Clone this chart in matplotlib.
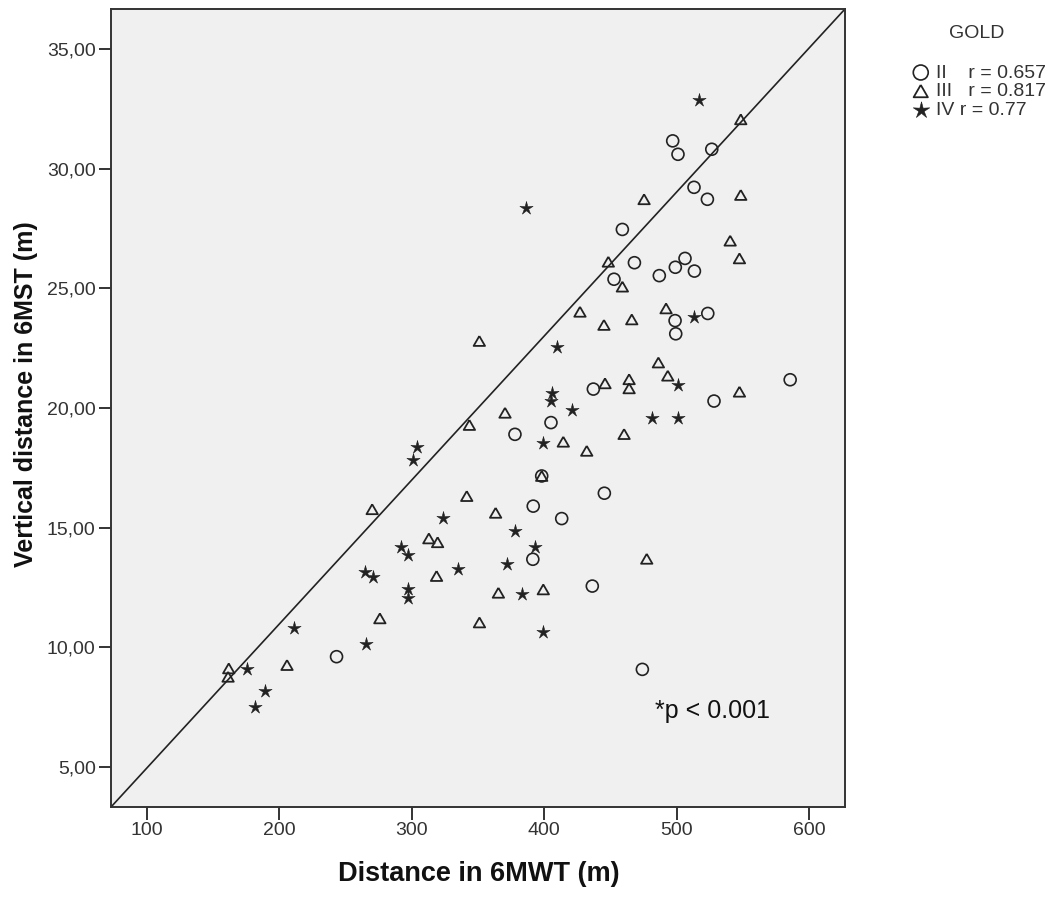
import numpy as np
import matplotlib
matplotlib.use("Agg")
import matplotlib.pyplot as plt

plt.rcParams['font.family'] = ['Liberation Sans', 'DejaVu Sans']

# ---- data ----
ii_walk = [496.9, 500.9, 526.4, 513.0, 523.1, 458.9, 468.0, 506.2, 498.9, 513.3,
           486.8, 452.6, 523.4, 498.7, 499.2, 437.0, 585.6, 528.1, 405.0, 377.8,
           398.0, 391.6, 413.1, 445.3, 391.3, 436.2, 243.1, 474.0]
ii_stair = [31.16, 30.60, 30.81, 29.22, 28.72, 27.46, 26.07, 26.25, 25.88, 25.72,
            25.53, 25.38, 23.95, 23.65, 23.10, 20.79, 21.18, 20.29, 19.39, 18.90,
            17.16, 15.90, 15.38, 16.44, 13.68, 12.56, 9.61, 9.08]

iii_walk = [548.3, 475.3, 548.3, 540.3, 547.3, 448.3, 458.9, 426.9, 445.0, 466.0,
            491.9, 350.9, 486.1, 493.2, 445.8, 464.0, 464.0, 547.3, 370.3, 343.4,
            414.3, 460.2, 432.0, 398.0, 341.4, 363.2, 270.0, 312.8, 319.4, 477.3,
            318.6, 365.3, 399.2, 275.8, 351.0, 205.7, 161.7, 161.2]
iii_stair = [32.06, 28.72, 28.90, 26.99, 26.25, 26.11, 25.07, 24.02, 23.47, 23.70,
             24.16, 22.80, 21.90, 21.35, 21.03, 21.20, 20.82, 20.68, 19.80, 19.29,
             18.59, 18.91, 18.21, 17.16, 16.32, 15.62, 15.77, 14.55, 14.39, 13.70,
             12.98, 12.28, 12.42, 11.21, 11.04, 9.26, 9.12, 8.77]

iv_walk = [517.0, 386.1, 513.0, 409.8, 405.5, 405.0, 501.2, 421.2, 481.5, 501.2,
           398.7, 303.5, 301.0, 323.6, 377.8, 291.7, 297.3, 392.9, 371.5, 335.0,
           264.5, 270.3, 297.3, 297.3, 382.9, 211.1, 265.0, 399.2, 175.8, 189.4,
           181.4]
iv_stair = [32.87, 28.34, 23.79, 22.56, 20.64, 20.30, 20.96, 19.91, 19.57, 19.57,
            18.52, 18.38, 17.82, 15.39, 14.87, 14.18, 13.86, 14.21, 13.47, 13.27,
            13.13, 12.92, 12.42, 12.05, 12.22, 10.82, 10.14, 10.65, 9.08, 8.19,
            7.52]

group_labels = ["II    r = 0.657", "III   r = 0.817", "IV r = 0.77"]
x_ticks = [100, 200, 300, 400, 500, 600]
y_ticks = [5, 10, 15, 20, 25, 30, 35]
y_tick_labels = ["5,00", "10,00", "15,00", "20,00", "25,00", "30,00", "35,00"]

# ---- marker shapes ----
tri = [(0, 0.866), (-1, -0.866), (1, -0.866), (0, 0.866)]
ang = np.pi / 2 + np.arange(10) * np.pi / 5
rad = np.where(np.arange(10) % 2 == 0, 1.0, 0.33)
star = list(zip(rad * np.cos(ang), rad * np.sin(ang)))
star.append(star[0])

fig = plt.figure(figsize=(10.53, 8.97), dpi=100)
ax = fig.add_axes([111 / 1053, 90 / 897, 734 / 1053, 798 / 897])
ax.set_facecolor('#F0F0F0')

ink = '#222222'
h1 = ax.scatter(ii_walk, ii_stair, s=8.6 ** 2, marker='o', facecolors='none',
                edgecolors=ink, linewidths=1.2, zorder=3)
h2 = ax.scatter(iii_walk, iii_stair, s=8.2 ** 2, marker=tri, facecolors='none',
                edgecolors=ink, linewidths=1.3, zorder=3)
h3 = ax.scatter(iv_walk, iv_stair, s=10.0 ** 2, marker=star, facecolors=ink,
                edgecolors=ink, linewidths=0.4, zorder=3)

ax.set_xlim(72.8, 627)
ax.set_ylim(3.33, 36.67)
ax.plot([0, 1], [0, 1], transform=ax.transAxes, color=ink, lw=1.2, zorder=2)

ax.set_xticks(x_ticks)
ax.set_xticklabels([str(t) for t in x_ticks])
ax.set_yticks(y_ticks)
ax.set_yticklabels(y_tick_labels)
ax.tick_params(axis='both', direction='out', length=9, width=1.4, color='#333333',
               labelsize=14, labelcolor='#333333', pad=2)
for sp in ax.spines.values():
    sp.set_linewidth(1.4)
    sp.set_color('#333333')

fig.text(478.5 / 1053, 1 - 874 / 897, "Distance in 6MWT (m)", fontsize=19.5,
         fontweight='bold', ha='center', va='center', color='#111111')
fig.text(26.5 / 1053, 1 - 394 / 897, "Vertical distance in 6MST (m)", fontsize=18,
         fontweight='bold', ha='center', va='center', rotation=90, color='#111111')

ax.text(483.6, 7.04, "*p < 0.001", fontsize=18, ha='left', va='baseline',
        color='#111111')

fig.text(977 / 1053, 1 - 33.5 / 897, "GOLD", fontsize=14, ha='center',
         va='center', color='#333333')
leg = ax.legend([h1, h2, h3], group_labels, loc='upper left',
                bbox_to_anchor=(912 / 1053, 1 - 64 / 897),
                bbox_transform=fig.transFigure, frameon=False, fontsize=14,
                handlelength=0.9, handletextpad=0.35, labelspacing=0.05,
                markerscale=1.25,
                borderpad=0, borderaxespad=0, scatterpoints=1)
for t in leg.get_texts():
    t.set_color('#333333')

fig.savefig("out.png", dpi=100)
